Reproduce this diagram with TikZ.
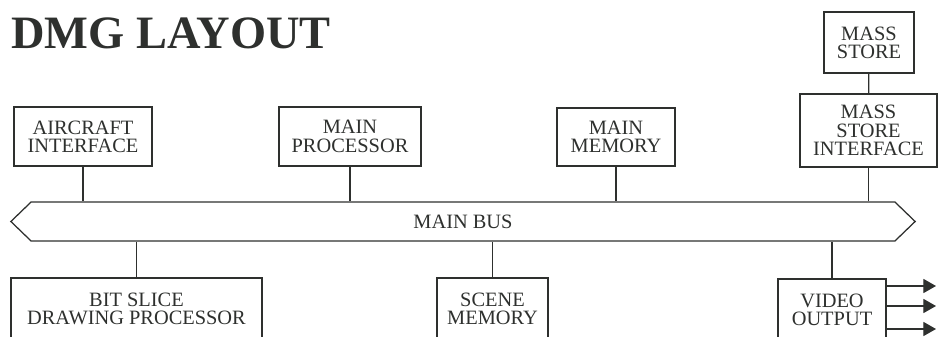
\documentclass[tikz,border=0pt]{standalone}
\usepackage{fontspec}
\setmainfont{Liberation Serif}
\usetikzlibrary{positioning,shapes.symbols,arrows.meta}
\definecolor{inkgrey}{HTML}{2E302E}

\begin{document}
\begin{tikzpicture}[x=0.025cm,y=-0.025cm,
    unit/.style={draw=inkgrey, line width=0.9pt, align=center, text=inkgrey,
        font=\fontsize{14.5}{13}\selectfont, inner sep=0pt},
    link/.style={draw=inkgrey, line width=0.9pt},
    outarrow/.style={link, -{Triangle[length=9pt,width=10pt]}, fill=inkgrey}]
    \useasboundingbox (0,0) rectangle (944,336);
    \clip (0,0) rectangle (944,336);
    % Title
    \node[anchor=base west, inner sep=0pt, text=inkgrey,
        font=\fontsize{33}{33}\selectfont\bfseries] (title) at (11,48) {DMG LAYOUT};
    % Units above the bus
    \node[unit, minimum width=3.45cm, minimum height=1.475cm] (aircraft) at (83,136.5) {AIRCRAFT\\INTERFACE};
    \node[unit, minimum width=3.55cm, minimum height=1.475cm] (mainproc) at (350,136.5) {MAIN\\PROCESSOR};
    \node[unit, minimum width=2.95cm, minimum height=1.45cm] (mainmem) at (616,137) {MAIN\\MEMORY};
    \node[unit, minimum width=3.425cm, minimum height=1.825cm] (msi) at (868.5,130.5) {MASS\\STORE\\INTERFACE};
    \node[unit, minimum width=2.25cm, minimum height=1.525cm] (massstore) at (869,42.5) {MASS\\STORE};
    % Main bus
    \node[draw=inkgrey, line width=0.9pt, shape=signal, signal to=west and east,
        signal pointer angle=88, minimum width=22.6cm, minimum height=0.975cm,
        inner sep=0pt, text=inkgrey, font=\fontsize{14.5}{13}\selectfont] (bus) at (463,221.5) {MAIN BUS};
    % Units below the bus
    \node[unit, minimum width=6.275cm, minimum height=1.55cm] (bitslice) at (136.5,309) {BIT SLICE\\DRAWING PROCESSOR};
    \node[unit, minimum width=2.775cm, minimum height=1.55cm] (scenemem) at (492.5,309) {SCENE\\MEMORY};
    \node[unit, minimum width=2.7cm, minimum height=1.55cm] (video) at (832,310) {VIDEO\\OUTPUT};
    % Bus links
    \draw[link] (massstore) -- (msi);
    \foreach \u in {aircraft,mainproc,mainmem,msi}
        \draw[link] (\u.south) -- (\u.south |- bus.north);
    \foreach \u in {bitslice,scenemem,video}
        \draw[link] (\u.north) -- (\u.north |- bus.south);
    % Video outputs
    \coordinate (vout1) at (936,286);
    \coordinate (vout2) at (936,306);
    \coordinate (vout3) at (936,329);
    \foreach \o in {vout1,vout2,vout3}
        \draw[outarrow] (\o -| video.east) -- (\o);
\end{tikzpicture}
\end{document}
